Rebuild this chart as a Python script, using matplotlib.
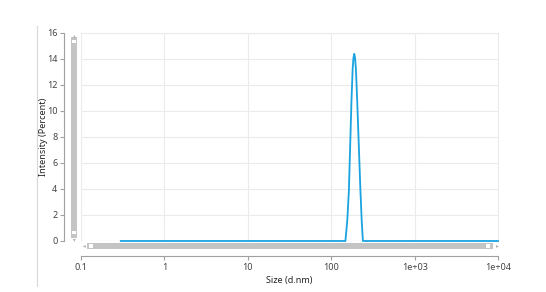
import matplotlib
matplotlib.use("Agg")
import matplotlib.pyplot as plt
from matplotlib.patches import Rectangle
from matplotlib.lines import Line2D

# size distribution by intensity
sizes = [0.3, 148, 156, 163, 175, 181, 185, 189, 193, 198, 205, 224, 232, 240, 10000]
intensity = [0, 0, 1.6, 3.9, 10.8, 13.3, 14.1, 14.4, 14.1, 13.2, 10.8, 3.9, 1.6, 0, 0]

x_ticks = [0.1, 1, 10, 100, 1000, 10000]
x_labels = ['0.1', '1', '10', '100', '1e+03', '1e+04']
y_ticks = [0, 2, 4, 6, 8, 10, 12, 14, 16]

W, H = 546, 292
fig = plt.figure(figsize=(W / 100, H / 100), dpi=100)
plt.rcParams['font.family'] = ['Noto Sans', 'DejaVu Sans']

ax = fig.add_axes([81 / W, (H - 241) / H, (498 - 81) / W, (241 - 33) / H])
ax.plot(sizes, intensity, color='#1aa3e0', lw=1.3, clip_on=False, zorder=3)
ax.set_xscale('log')
ax.set_xlim(0.1, 10000)
ax.set_ylim(0, 16)
ax.set_xticks(x_ticks)
ax.set_xticklabels(x_labels)
ax.xaxis.set_minor_locator(matplotlib.ticker.NullLocator())
ax.set_yticks(y_ticks)

ax.grid(True, color='#ebebeb', lw=0.8)
ax.set_axisbelow(True)
for s in ['top', 'right']:
    ax.spines[s].set_color('#ebebeb')
    ax.spines[s].set_linewidth(0.8)
ax.spines['left'].set_position(('outward', 12))
ax.spines['bottom'].set_position(('outward', 11))
for s in ['left', 'bottom']:
    ax.spines[s].set_color('#a0a0a0')
    ax.spines[s].set_linewidth(0.8)
ax.tick_params(colors='#a0a0a0', labelcolor='#444444', labelsize=6.5, length=3, width=0.8, pad=2)


def fx(px):
    return px / W


def fy(py):
    return (H - py) / H


fig.text(fx(289), fy(280), 'Size (d.nm)', fontsize=6.5, color='#222222', ha='center', va='center')
fig.text(fx(43), fy(137), 'Intensity (Percent)', fontsize=6.5, color='#222222',
         ha='center', va='center', rotation=90)

# scrollbar decorations
fig.patches.append(Rectangle((fx(71), fy(238)), 6 / W, (238 - 37) / H, transform=fig.transFigure,
                             facecolor='#c4c4c4', edgecolor='none'))
fig.patches.append(Rectangle((fx(72), fy(43)), 4 / W, 3 / H, transform=fig.transFigure,
                             facecolor='white', edgecolor='none'))
fig.patches.append(Rectangle((fx(72), fy(234)), 4 / W, 3 / H, transform=fig.transFigure,
                             facecolor='white', edgecolor='none'))
fig.patches.append(Rectangle((fx(87), fy(249)), (493 - 87) / W, 6 / H, transform=fig.transFigure,
                             facecolor='#c4c4c4', edgecolor='none'))
fig.patches.append(Rectangle((fx(89), fy(248)), 4 / W, 4 / H, transform=fig.transFigure,
                             facecolor='white', edgecolor='none'))
fig.patches.append(Rectangle((fx(486), fy(248)), 4 / W, 4 / H, transform=fig.transFigure,
                             facecolor='white', edgecolor='none'))
fig.text(fx(74), fy(36), '▴', fontsize=4, color='#b0b0b0', ha='center', va='center')
fig.text(fx(74), fy(240), '▾', fontsize=4, color='#b0b0b0', ha='center', va='center')
fig.text(fx(84), fy(246), '◂', fontsize=4, color='#b0b0b0', ha='center', va='center')
fig.text(fx(497), fy(246), '▸', fontsize=4, color='#b0b0b0', ha='center', va='center')

# left border line of the panel
fig.add_artist(Line2D([fx(37), fx(37)], [fy(26), fy(286)], color='#d8d8d8', lw=0.8))

fig.savefig('out.png', dpi=100)
